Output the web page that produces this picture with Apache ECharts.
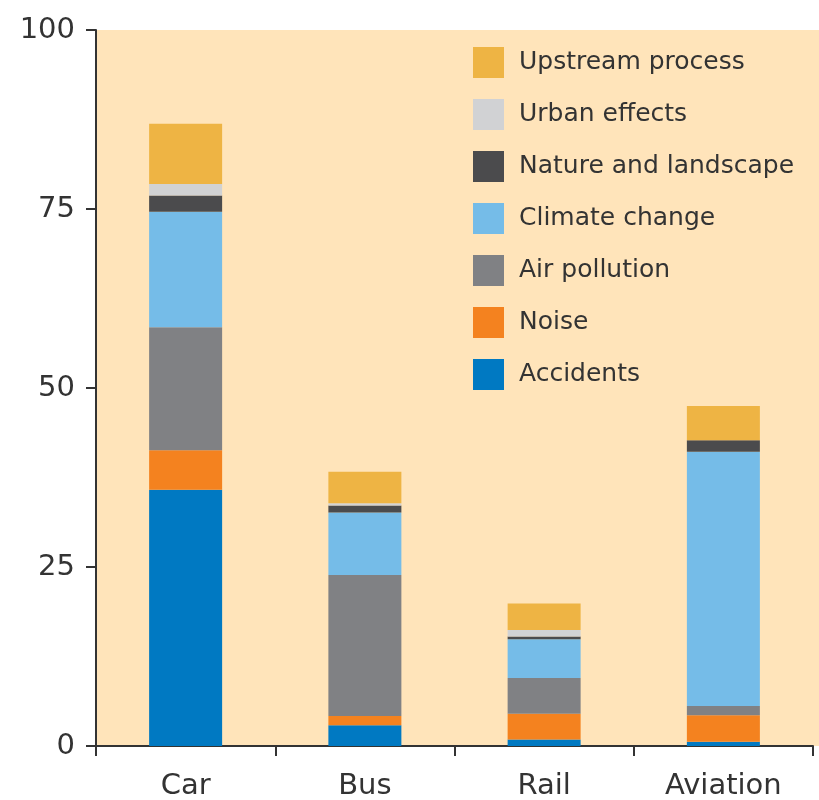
<!DOCTYPE html>
<html>
<head>
<meta charset="utf-8">
<script src="https://cdn.jsdelivr.net/npm/echarts@6/dist/echarts.min.js"></script>
<style>
  html, body { margin: 0; padding: 0; background: #fff; }
  #chart { width: 819px; height: 800px; }
</style>
</head>
<body>
<div id="chart"></div>
<script>
// data
const categories = ['Car', 'Bus', 'Rail', 'Aviation'];
const accidents = [35.8, 2.9, 0.9, 0.6];
const noise = [5.5, 1.3, 3.6, 3.7];
const airPollution = [17.2, 19.7, 5.0, 1.3];
const climateChange = [16.1, 8.7, 5.4, 35.5];
const natureLandscape = [2.3, 1.0, 0.4, 1.6];
const urbanEffects = [1.6, 0.3, 0.9, 0];
const upstreamProcess = [8.4, 4.4, 3.7, 4.8];
const yTicks = [0, 25, 50, 75, 100];

const textColor = '#333';
const axisColor = '#333';

const seriesDefs = [
  { name: 'Accidents', data: accidents, color: '#0079c2' },
  { name: 'Noise', data: noise, color: '#f4821f' },
  { name: 'Air pollution', data: airPollution, color: '#808184' },
  { name: 'Climate change', data: climateChange, color: '#75bce8' },
  { name: 'Nature and landscape', data: natureLandscape, color: '#4b4b4d' },
  { name: 'Urban effects', data: urbanEffects, color: '#d1d2d4' },
  { name: 'Upstream process', data: upstreamProcess, color: '#eeb444' }
];

const chart = echarts.init(document.getElementById('chart'));
chart.setOption({
  animation: false,
  graphic: [{
    type: 'rect',
    z: -1,
    silent: true,
    shape: { x: 96, y: 30, width: 723, height: 716 },
    style: { fill: '#ffe4ba' }
  }],
  grid: {
    left: 96,
    right: 6,
    top: 30,
    bottom: 54,
    outerBoundsMode: 'none'
  },
  legend: {
    orient: 'vertical',
    left: 468,
    top: 42,
    itemWidth: 31,
    itemHeight: 31,
    itemGap: 21,
    icon: 'rect',
    data: seriesDefs.map(s => s.name).reverse(),
    textStyle: {
      fontFamily: 'DejaVu Sans',
      fontSize: 25,
      color: textColor,
      padding: [0, 0, 0, 10]
    }
  },
  xAxis: {
    type: 'category',
    data: categories,
    axisLine: { lineStyle: { color: axisColor, width: 2 } },
    axisTick: { show: true, length: 10, lineStyle: { color: axisColor, width: 2 } },
    axisLabel: {
      margin: 26,
      fontFamily: 'DejaVu Sans',
      fontSize: 29,
      color: textColor
    }
  },
  yAxis: {
    type: 'value',
    min: yTicks[0],
    max: yTicks[yTicks.length - 1],
    interval: 25,
    splitLine: { show: false },
    axisLine: { show: true, lineStyle: { color: axisColor, width: 2 } },
    axisTick: { show: true, length: 10, lineStyle: { color: axisColor, width: 2 } },
    axisLabel: {
      margin: 21,
      fontFamily: 'DejaVu Sans',
      fontSize: 29,
      color: textColor
    }
  },
  series: seriesDefs.map(s => ({
    name: s.name,
    type: 'bar',
    stack: 'total',
    barWidth: 73,
    data: s.data,
    itemStyle: { color: s.color }
  }))
});
</script>
</body>
</html>
